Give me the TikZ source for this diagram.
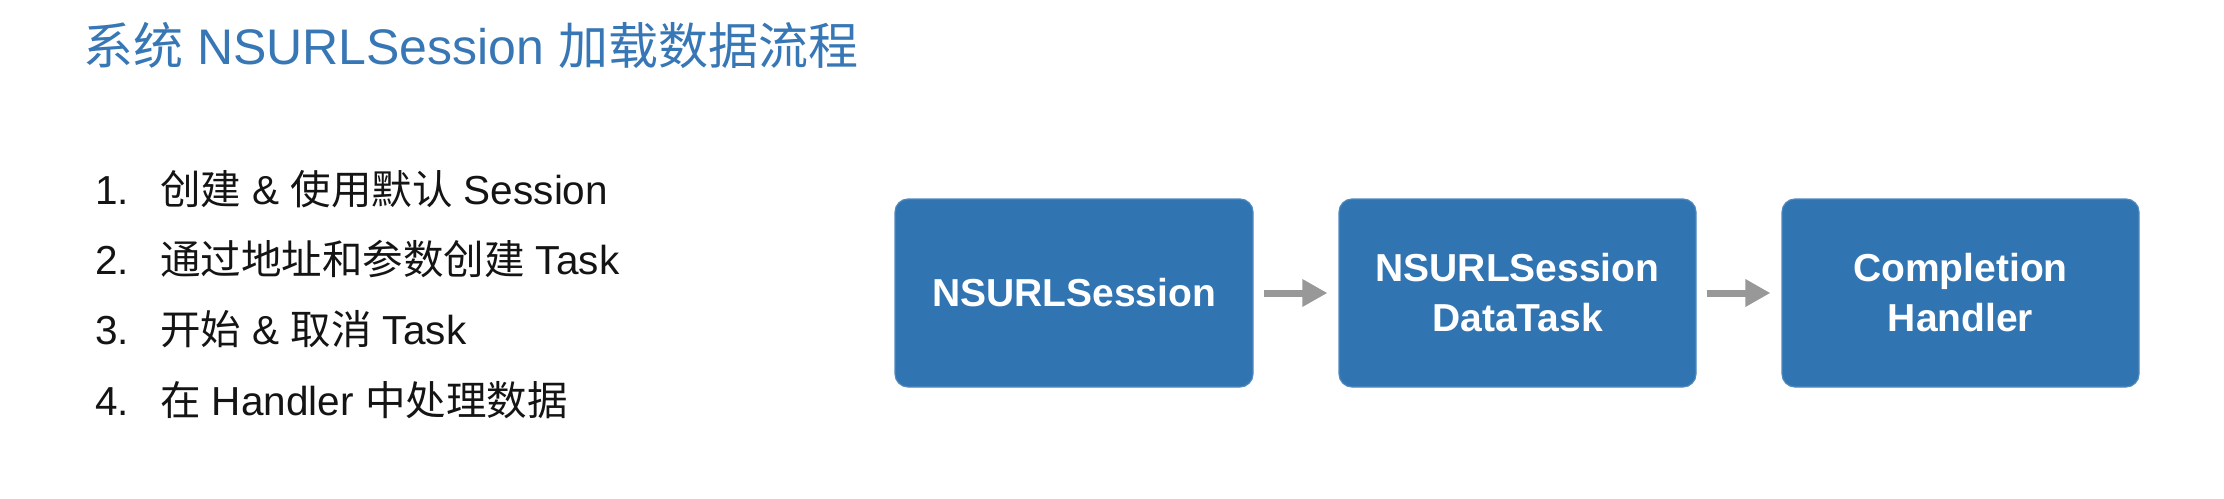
\documentclass[tikz,border=0pt]{standalone}
\usepackage{fontspec}
\setmainfont{Liberation Sans}
\newfontfamily\cjk{Noto Sans CJK SC}
\usetikzlibrary{arrows.meta}
\definecolor{boxblue}{RGB}{49,116,178}
\definecolor{titleblue}{RGB}{56,119,181}
\definecolor{arrgray}{RGB}{152,152,152}
\definecolor{txt}{RGB}{20,20,20}
\tikzset{
  flowbox/.style={draw=boxblue!85!white, line width=1.2pt, fill=boxblue, rounded corners=13pt,
    minimum width=357pt, minimum height=188pt, inner sep=0pt, text=white, align=center,
    font=\bfseries\fontsize{39}{50}\selectfont},
  listnum/.style={anchor=base west, inner sep=0pt, text=txt, font=\fontsize{40.5}{48}\selectfont},
  listtxt/.style={anchor=base west, inner sep=0pt, text=txt, font=\fontsize{40.5}{48}\selectfont},
  arr/.style={draw=arrgray, line width=7pt, -{Triangle[length=25pt,width=26pt]},
    shorten <=10pt, shorten >=11pt},
}
\begin{document}
\begin{tikzpicture}[x=1pt,y=-1pt]
\useasboundingbox (0,0) rectangle (2224,498);
\node[anchor=base west, inner sep=0pt, text=titleblue, font=\fontsize{50}{60}\selectfont]
  (title) at (83,64) {{\cjk 系统} NSURLSession {\cjk 加载数据流程}};
\node[listnum] (n1) at (95,204) {1.};
\node[listtxt] (t1) at (160,204) {{\cjk 创建} \& {\cjk 使用默认} Session};
\node[listnum] (n2) at (95,274) {2.};
\node[listtxt] (t2) at (160,274) {{\cjk 通过地址和参数创建} Task};
\node[listnum] (n3) at (95,344) {3.};
\node[listtxt] (t3) at (160,344) {{\cjk 开始} \& {\cjk 取消} Task};
\node[listnum] (n4) at (95,415) {4.};
\node[listtxt] (t4) at (160,415) {{\cjk 在} Handler {\cjk 中处理数据}};
\node[flowbox, minimum width=358pt] (b1) at (1074,293) {NSURLSession};
\node[flowbox] (b2) at (1517.5,293) {NSURLSession\\DataTask};
\node[flowbox] (b3) at (1960.5,293) {Completion\\Handler};
\draw[arr] (b1) -- (b2);
\draw[arr] (b2) -- (b3);
\end{tikzpicture}
\end{document}
